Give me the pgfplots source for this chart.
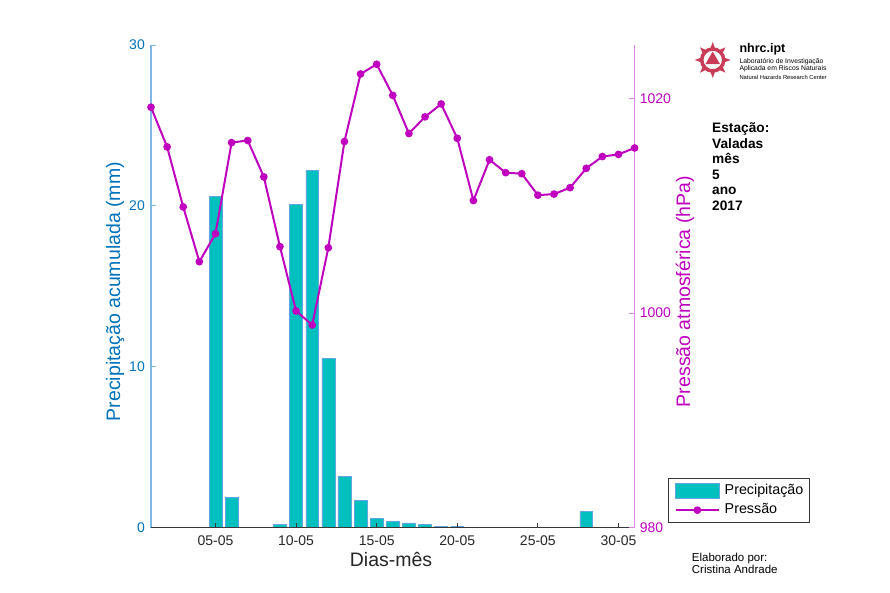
\documentclass[border=0pt]{standalone}
\usepackage{fontspec}
\setmainfont{Liberation Sans}
\usepackage{pgfplots}
\usepackage{pgfplotstable}
\pgfplotsset{compat=1.18}

\definecolor{precblue}{RGB}{0,114,189}
\definecolor{precaxis}{RGB}{125,185,228}
\definecolor{barfill}{RGB}{0,191,191}
\definecolor{baredge}{RGB}{100,165,225}
\definecolor{pres}{RGB}{191,0,191}
\definecolor{presaxis}{RGB}{222,135,222}
\definecolor{xaxis}{RGB}{55,55,55}
\definecolor{ticktext}{RGB}{38,38,38}
\definecolor{logo}{RGB}{200,60,88}

\pgfplotstableread{
day prec
1 0
2 0
3 0
4 0
5 20.6
6 1.9
7 0
8 0
9 0.2
10 20.1
11 22.2
12 10.5
13 3.2
14 1.7
15 0.6
16 0.4
17 0.3
18 0.2
19 0.1
20 0.1
21 0
22 0
23 0
24 0
25 0
26 0
27 0
28 1.0
29 0
30 0
31 0
}\prectable

\pgfplotstableread{
day pres
1 1019.2
2 1015.5
3 1009.9
4 1004.8
5 1007.4
6 1015.9
7 1016.1
8 1012.7
9 1006.2
10 1000.2
11 998.9
12 1006.1
13 1016.0
14 1022.3
15 1023.2
16 1020.3
17 1016.75
18 1018.3
19 1019.5
20 1016.3
21 1010.5
22 1014.3
23 1013.1
24 1013.0
25 1011.0
26 1011.1
27 1011.7
28 1013.5
29 1014.6
30 1014.8
31 1015.4
}\prestable

\begin{document}
\begin{tikzpicture}[x=1pt,y=1pt]
\path[use as bounding box] (0pt,0pt) rectangle (890pt,593pt);

\begin{axis}[
  at={(151pt,65.3pt)}, anchor=south west,
  scale only axis, width=483.6pt, height=482.7pt,
  xmin=1, xmax=31, ymin=0, ymax=30,
  clip=false,
  axis x line=bottom, axis y line=left, axis line style={-},
  x axis line style={draw=xaxis, line width=1.6pt},
  y axis line style={draw=precaxis, line width=1.2pt},
  xtick={5,10,15,20,25,30},
  xticklabels={05-05,10-05,15-05,20-05,25-05,30-05},
  ytick={0,10,20,30},
  tick align=inside, major tick length=5pt,
  xtick style={draw=xaxis, line width=0.8pt},
  ytick style={draw=precaxis, line width=0.8pt},
  /pgf/number format/assume math mode=true,
  /pgf/number format/1000 sep={},
  xticklabel style={font=\fontsize{14}{16}\selectfont, text=ticktext, inner sep=0pt},
  yticklabel style={font=\fontsize{14}{16}\selectfont, text=precblue, inner sep=0pt},
  xticklabel shift=8pt,
  yticklabel shift=6pt,
  xlabel={Dias-mês},
  ylabel={Precipitação acumulada (mm)},
  every axis x label/.style={at={(axis description cs:0.4963,-0.0669)}, anchor=center,
     font=\fontsize{19.5}{22}\selectfont, text=ticktext},
  every axis y label/.style={at={(axis description cs:-0.0744,0.489)}, anchor=center, rotate=90,
     font=\fontsize{19.5}{22}\selectfont, text=precblue},
]
\addplot[ybar, bar width=0.8, fill=barfill, draw=baredge, line width=0.5pt,
  restrict x to domain=1.5:30.5]
  table[x=day,y=prec]{\prectable};
\draw[xaxis, line width=1.6pt] (rel axis cs:0,0) -- (rel axis cs:1,0);
\foreach \t in {5,10,15,20,25,30}{
  \edef\temp{\noexpand\draw[xaxis, line width=0.8pt] (axis cs:\t,0) -- ++(0pt,5pt);}\temp
}
\end{axis}

\begin{axis}[
  at={(151pt,65.3pt)}, anchor=south west,
  scale only axis, width=483.6pt, height=482.7pt,
  xmin=1, xmax=31, ymin=980, ymax=1025,
  clip=false,
  axis x line=none, axis y line=right, axis line style={-},
  y axis line style={draw=presaxis, line width=1.2pt},
  ytick={980,1000,1020},
  tick align=inside, major tick length=6pt,
  ytick style={draw=presaxis, line width=0.8pt},
  /pgf/number format/assume math mode=true,
  /pgf/number format/1000 sep={},
  yticklabel style={font=\fontsize{14}{16}\selectfont, text=pres, inner sep=0pt},
  yticklabel shift=5pt,
  ylabel={Pressão atmosférica (hPa)},
  every axis y label/.style={at={(axis description cs:1.1042,0.489)}, anchor=center, rotate=90,
     font=\fontsize{19.5}{22}\selectfont, text=pres},
  legend style={at={(axis description cs:1.0697,0.1036)}, anchor=north west,
     draw=xaxis, line width=0.8pt, fill=white,
     font=\fontsize{14.3}{16}\selectfont,
     inner xsep=6pt, inner ysep=4.85pt, row sep=5pt, column sep=4.7pt,
     nodes={inner sep=0pt, text height=10.5pt, text depth=3.5pt}},
  legend cell align=left,
]
\addlegendimage{legend image code/.code={
   \draw[fill=barfill, draw=baredge, line width=0.6pt] (0pt,-7.3pt) rectangle (43.3pt,7.3pt);}}
\addlegendentry{Precipitação}
\addplot[pres, line width=2pt, mark=*, mark size=2.8pt, mark options={fill=pres, draw=pres},
  legend image code/.code={
   \draw[pres, line width=2pt] (0pt,0pt) -- (43.3pt,0pt);
   \fill[pres] (21.65pt,0pt) circle (2.8pt);}]
  table[x=day,y=pres]{\prestable};
\addlegendentry{Pressão}
\end{axis}

% station info
\begin{scope}[every node/.style={anchor=base west, inner sep=0pt, font=\bfseries\fontsize{13.7}{15}\selectfont}]
\node at (712pt,460pt) {Estação:};
\node at (712pt,444.5pt) {Valadas};
\node at (712pt,429pt) {mês};
\node at (712pt,413.5pt) {5};
\node at (712pt,398pt) {ano};
\node at (712pt,382.5pt) {2017};
\end{scope}

% credits
\begin{scope}[every node/.style={anchor=base west, inner sep=0pt, font=\fontsize{11.5}{12}\selectfont}]
\node at (691.7pt,31.2pt) {Elaborado por:};
\node at (691.7pt,19.6pt) {Cristina Andrade};
\end{scope}

% logo
\begin{scope}[shift={(712.7pt,533pt)}]
\foreach \a in {0,45,...,315}{
  \fill[logo] (\a:18pt) -- (\a+18:10pt) -- (\a-18:10pt) -- cycle;
}
\draw[logo, line width=3.5pt] (0pt,0pt) circle (11pt);
\fill[logo] (90:8.5pt) -- (210:8.5pt) -- (330:8.5pt) -- cycle;
\end{scope}
\node[anchor=base west, inner sep=0pt, font=\bfseries\fontsize{12.5}{13}\selectfont] at (739.3pt,540pt) {nhrc.ipt};
\node[anchor=base west, inner sep=0pt, font=\fontsize{6.8}{7}\selectfont] at (739.3pt,529.5pt) {Laboratório de Investigação};
\node[anchor=base west, inner sep=0pt, font=\fontsize{6.8}{7}\selectfont] at (739.3pt,522pt) {Aplicada em Riscos Naturais};
\node[anchor=base west, inner sep=0pt, font=\fontsize{5.8}{6}\selectfont] at (739.3pt,513.5pt) {Natural Hazards Research Center};
\end{tikzpicture}
\end{document}
